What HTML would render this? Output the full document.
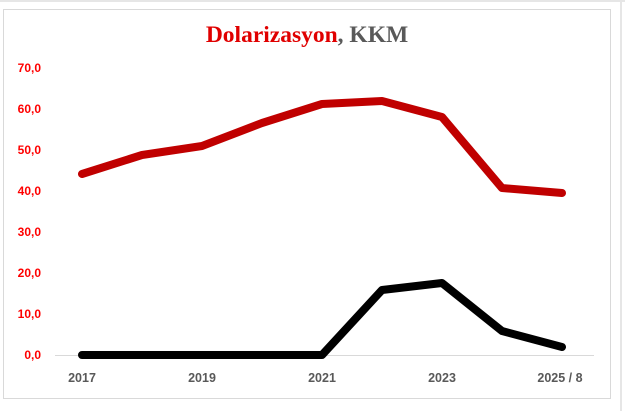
<!DOCTYPE html>
<html><head><style>body{margin:0;background:#fff;}svg{display:block}</style></head><body>
<svg width="625" height="411" xmlns="http://www.w3.org/2000/svg">
<rect width="625" height="411" fill="#fff"/>
<line x1="0" y1="1" x2="625" y2="1" stroke="#e6e6e6" stroke-width="2"/>
<line x1="621" y1="0" x2="621" y2="411" stroke="#e6e6e6" stroke-width="2"/>
<rect x="3.5" y="9.5" width="607" height="389" fill="#fff" stroke="#d9d9d9"/>
<text x="307" y="42" text-anchor="middle" font-family="Liberation Serif, serif" font-weight="bold" font-size="23.5"><tspan fill="#e00000">Dolarizasyon</tspan><tspan fill="#595959">, KKM</tspan></text>
<g font-family="Liberation Sans, sans-serif" font-weight="bold" font-size="12" fill="#ff0000" text-anchor="end">
<text x="41" y="359">0,0</text><text x="41" y="318">10,0</text><text x="41" y="277">20,0</text><text x="41" y="236">30,0</text><text x="41" y="195">40,0</text><text x="41" y="154">50,0</text><text x="41" y="113">60,0</text><text x="41" y="72">70,0</text>
</g>
<line x1="55" y1="355.5" x2="594" y2="355.5" stroke="#d9d9d9"/>
<g font-family="Liberation Sans, sans-serif" font-weight="bold" font-size="12.5" fill="#595959" text-anchor="middle">
<text x="82" y="382">2017</text><text x="202" y="382">2019</text><text x="322" y="382">2021</text><text x="442" y="382">2023</text><text x="560" y="382">2025 / 8</text>
</g>
<polyline fill="none" stroke="#c00000" stroke-width="8" stroke-linejoin="round" stroke-linecap="round" points="82,174 142,155 202,146 262,123 322,104 382,101 442,117 502,188 562,193"/>
<polyline fill="none" stroke="#000" stroke-width="8" stroke-linejoin="round" stroke-linecap="round" points="82,355 142,355 202,355 262,355 322,355 382,290 442,283 502,331 562,347"/>
</svg>
</body></html>
